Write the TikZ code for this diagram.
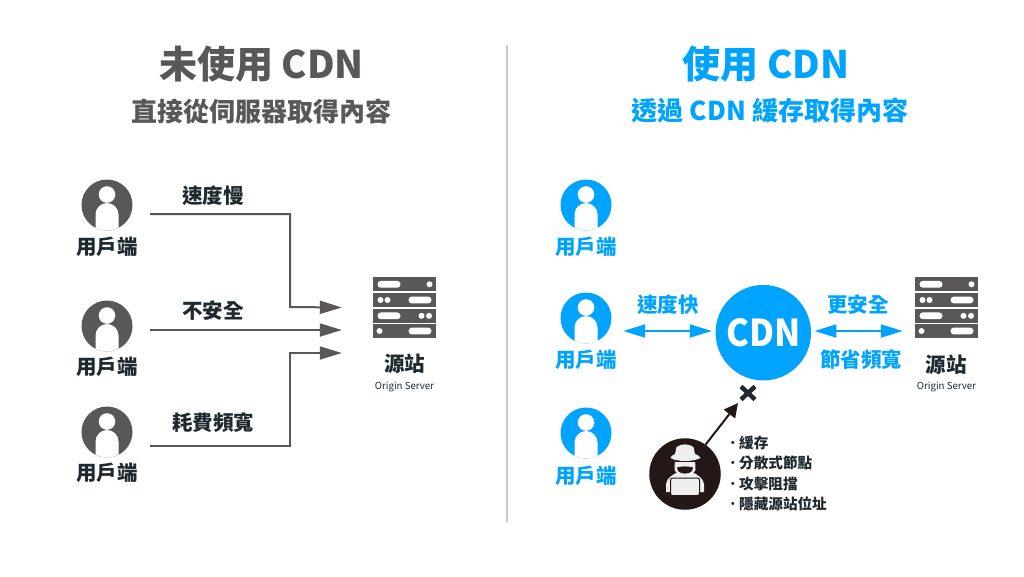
\documentclass[tikz,border=0pt]{standalone}
\usepackage{fontspec}
\setmainfont{Noto Sans CJK TC}
\usetikzlibrary{arrows.meta,calc}
\definecolor{cgray}{HTML}{595757}
\definecolor{cblue}{HTML}{00A4FF}
\definecolor{cdark}{HTML}{1F2A30}
\definecolor{chack}{HTML}{231815}
\definecolor{cpale}{HTML}{EFEFEF}
\definecolor{cline}{HTML}{C9CACA}
\tikzset{
  usercircle/.style={circle,inner sep=0pt,minimum size=51pt},
  txt/.style={inner sep=0pt,font=\bfseries\fontsize{20.5}{22}\selectfont},
  sub/.style={inner sep=0pt,font=\bfseries\fontsize{26}{28}\selectfont},
  ttl/.style={inner sep=0pt,font=\bfseries\fontsize{38}{40}\selectfont},
  small/.style={inner sep=0pt,font=\fontsize{9.7}{12}\selectfont,text=cdark},
  listitem/.style={inner sep=0pt,anchor=west,font=\bfseries\fontsize{14.6}{16}\selectfont,text=cdark},
  conn/.style={draw=cgray,line width=2pt,-{Triangle[length=22pt,width=13pt]}},
  biarrow/.style={draw=cblue,line width=2pt,{Triangle[length=22pt,width=13pt]}-{Triangle[length=22pt,width=13pt]}},
  serverbox/.style={rectangle,inner sep=0pt,minimum width=63pt,minimum height=61pt},
}
\newcommand{\listdot}{\makebox[13.5pt][l]{\mdseries ·}}
\newcommand{\usericon}[3]{% name, position, colour
  \node[usercircle,fill=#3] (#1) at (#2) {};
  \begin{scope}
    \clip (#1) circle (25.5pt);
    \fill[white] ($(#1)+(-11.5,9.5)$) arc (180:360:11.5) -- ($(#1)+(11.5,30)$) -- ($(#1)+(-11.5,30)$) -- cycle;
  \end{scope}
  \fill[white] ($(#1)+(0,-10.5)$) circle (8.3pt);
}
\newcommand{\serverrow}[3]{% centre y offset, bar x, dots
  \fill[cgray] (-31.5,#1-6.9) rectangle (31.5,#1+6.9);
  \fill[white,rounded corners=3.3pt] (#2-11.5,#1-3.4) rectangle (#2+11.5,#1+3.4);
  \foreach \d in {#3} \fill[white] (\d,#1) circle (3pt);
}
\newcommand{\servericon}[2]{% name, position
  \node[serverbox] (#1) at (#2) {};
  \begin{scope}[shift={(#1.center)}]
    \serverrow{-23.2}{-15.5}{25}
    \serverrow{-7.5}{15.5}{-24,-17}
    \serverrow{8.3}{-15.5}{17,24.5}
    \serverrow{23.5}{15.5}{-25}
  \end{scope}
}
\begin{document}
\begin{tikzpicture}[x=1pt,y=-1pt]
\useasboundingbox (0,0) rectangle (1024,576);
\fill[white] (0,0) rectangle (1024,576);
% titles
\node[ttl,text=cgray] (t1) at (261.5,64) {未使用 CDN};
\node[sub,text=cgray] (s1) at (261.5,111) {直接從伺服器取得內容};
\node[ttl,text=cblue] (t2) at (766,64) {使用 CDN};
\node[sub,text=cblue] (s2) at (770,111) {透過 CDN 緩存取得內容};
\coordinate (d1) at (507,45);
\coordinate (d2) at (507,522);
\draw[cline,line width=1.2pt] (d1) -- (d2);
% left
\usericon{ua}{107,205}{cgray}
\usericon{ub}{107,326}{cgray}
\usericon{uc}{107,432}{cgray}
\node[txt,text=cdark] (la) at (107,247) {用戶端};
\node[txt,text=cdark] (lb) at (107,367) {用戶端};
\node[txt,text=cdark] (lc) at (107,473) {用戶端};
\servericon{srv}{404.5,307.5}
\node[txt,text=cdark] (ls) at (404.5,364) {源站};
\node[small] (os) at (404.5,387) {Origin Server};
\draw[conn] ([shift={(17.5,9)}]ua.east) -| (290,307) -- ([xshift=-31]srv.west);
\draw[conn] ([shift={(17.5,4)}]ub.east) -- ([shift={(-31,22.5)}]srv.west);
\draw[conn] ([shift={(17.5,14)}]uc.east) -| (290,353) -- ([shift={(-31,45.5)}]srv.west);
\node[txt,text=cdark] (e1) at (213,196) {速度慢};
\node[txt,text=cdark] (e2) at (213,311) {不安全};
\node[txt,text=cdark] (e3) at (213,423) {耗費頻寬};
% right
\usericon{ra}{586,205}{cblue}
\usericon{rb}{586,318}{cblue}
\usericon{rc}{586,433}{cblue}
\node[txt,text=cblue] (lra) at (586,247) {用戶端};
\node[txt,text=cblue] (lrb) at (586,360) {用戶端};
\node[txt,text=cblue] (lrc) at (586,476) {用戶端};
\node[circle,fill=cblue,inner sep=0pt,minimum size=95.5pt,text=white,font=\bfseries\fontsize{37}{39}\selectfont] (cdn) at (763.3,332.7) {\scalebox{.93}[1]{CDN}};
\servericon{srr}{946.5,307.5}
\node[txt,text=cdark] (lrs) at (946,365) {源站};
\node[small] (osr) at (946.5,387) {Origin Server};
\draw[biarrow] ([shift={(11.5,13)}]rb.east) -- ([shift={(-3.5,-1.7)}]cdn.west);
\draw[biarrow] ([shift={(3.2,-1.7)}]cdn.east) -- ([shift={(-12,23.5)}]srr.west);
\node[txt,text=cblue] (f1) at (668,305) {速度快};
\node[txt,text=cblue] (f2) at (858,305) {更安全};
\node[txt,text=cblue] (f3) at (861,360) {節省頻寬};
% attacker
\node[circle,fill=chack,inner sep=0pt,minimum size=71.5pt] (hk) at (685,474) {};
\begin{scope}[shift={(hk.center)}]
  % shoulders
  \fill[cpale] (-19,18) -- (-19,10) .. controls (-18,4) and (-13,1) .. (-7,-2) -- (7,-2) .. controls (13,1) and (18,4) .. (19,10) -- (19,18) -- cycle;
  % hood and face
  \fill[cpale] (-10,-16) -- (10,-16) -- (10.5,-4) .. controls (7,3) and (-7,3) .. (-10.5,-4) -- cycle;
  \fill[chack] (-10.5,-16) rectangle (10.5,-12.5);
  \fill[chack] (-8,-6.5) .. controls (-3,-8) and (3,-8) .. (8,-6.5) -- (7,-3) .. controls (4,0.5) and (-4,0.5) .. (-7,-3) -- cycle;
  % hat
  \fill[cpale] (-8.5,-27) .. controls (-4,-30.5) and (4,-30.5) .. (8.5,-27) -- (10,-20) .. controls (13,-19) and (15,-17.5) .. (15.5,-16) .. controls (8,-12) and (-8,-12) .. (-14.5,-16) .. controls (-14,-17.5) and (-13,-19) .. (-10,-20) -- cycle;
  % laptop
  \fill[cpale,draw=chack,line width=1pt,rounded corners=2pt] (-14.5,4) rectangle (14.5,21.5);
\end{scope}
\coordinate (xm) at (748,393);
\draw[cdark,line width=4.5pt] ($(xm)+(-7,-6.5)$) -- ($(xm)+(7,6.5)$);
\draw[cdark,line width=4.5pt] ($(xm)+(-7,6.5)$) -- ($(xm)+(7,-6.5)$);
\draw[chack,line width=2pt,-{Triangle[length=14pt,width=14pt]}] (hk.55) -- ($(xm)+(-10,10)$);
\node[listitem] (i1) at (725.5,442.5) {\listdot 緩存};
\node[listitem] (i2) at (725.5,462.5) {\listdot 分散式節點};
\node[listitem] (i3) at (725.5,483.5) {\listdot 攻擊阻擋};
\node[listitem] (i4) at (725.5,503.5) {\listdot 隱藏源站位址};
\end{tikzpicture}
\end{document}
